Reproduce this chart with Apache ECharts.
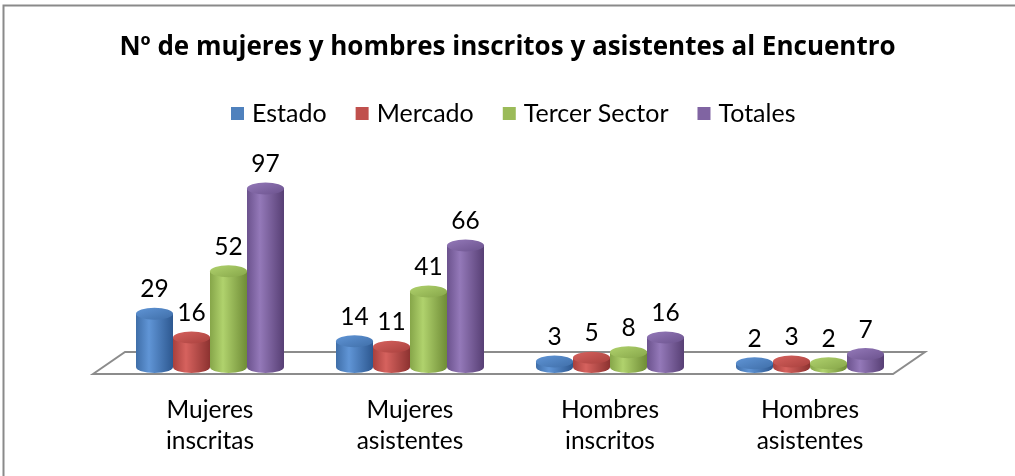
<!DOCTYPE html>
<html style="height: 100%;">
<head>
    <meta charset="UTF-8">
    <script src="https://cdn.jsdelivr.net/npm/echarts/dist/echarts.min.js"></script>
</head>
<body style="height: 100%; margin: 0; background: #fff;">
    <div id="chart" style="width: 1015px; height: 476px;"></div>

    <script type="text/javascript">
        // Data
        var categories = ['Mujeres\ninscritas', 'Mujeres\nasistentes', 'Hombres\ninscritos', 'Hombres\nasistentes'];
        var seriesNames = ['Estado', 'Mercado', 'Tercer Sector', 'Totales'];
        var estado = [29, 14, 3, 2];
        var mercado = [16, 11, 5, 3];
        var tercerSector = [52, 41, 8, 2];
        var totales = [97, 66, 16, 7];
        var seriesValues = [estado, mercado, tercerSector, totales];

        // Excel 2007 palette: base, dark edge, highlight, shadow edge
        var palette = [
            ['#4F81BD', '#3f6ea8', '#6095d6', '#2d5890'],
            ['#C0504D', '#a8403d', '#d6625e', '#8c3230'],
            ['#9BBB59', '#86a649', '#b0d26d', '#6f8c36'],
            ['#8064A2', '#6b528d', '#9479b9', '#573f74']
        ];
        var fontFamily = 'Lato, "Noto Sans", sans-serif';
        var barWidth = 37;

        function bodyGradient(c) {
            return new echarts.graphic.LinearGradient(0, 0, 1, 0, [
                { offset: 0, color: c[1] },
                { offset: 0.35, color: c[2] },
                { offset: 1, color: c[3] }
            ]);
        }

        var chart = echarts.init(document.getElementById('chart'));

        var series = [];
        // cylinder bodies
        seriesValues.forEach(function (vals, i) {
            series.push({
                name: seriesNames[i],
                type: 'bar',
                data: vals,
                barWidth: barWidth,
                barGap: '0%',
                z: 3,
                itemStyle: { color: bodyGradient(palette[i]) },
                label: {
                    show: true,
                    position: 'top',
                    distance: 12,
                    fontSize: 24.5,
                    color: '#000',
                    fontFamily: fontFamily
                }
            });
        });
        // top ellipses
        seriesValues.forEach(function (vals, i) {
            series.push({
                name: seriesNames[i] + ' top',
                type: 'pictorialBar',
                data: vals,
                barWidth: barWidth,
                barGap: '0%',
                symbol: 'circle',
                symbolSize: [barWidth, 12],
                symbolPosition: 'end',
                symbolOffset: [0, '-50%'],
                z: 4,
                itemStyle: {
                    color: new echarts.graphic.LinearGradient(0, 0, 1, 1, [
                        { offset: 0, color: palette[i][2] },
                        { offset: 1, color: palette[i][1] }
                    ])
                }
            });
        });
        // bottom ellipses (on a hidden twin axis so the layout stays separate)
        seriesValues.forEach(function (vals, i) {
            series.push({
                name: seriesNames[i] + ' bottom',
                type: 'pictorialBar',
                xAxisIndex: 1,
                data: vals,
                barWidth: barWidth,
                barGap: '0%',
                symbol: 'circle',
                symbolSize: [barWidth, 12],
                symbolPosition: 'start',
                symbolOffset: [0, '50%'],
                z: 2,
                itemStyle: { color: bodyGradient(palette[i]) }
            });
        });

        var option = {
            backgroundColor: '#fff',
            animation: false,
            title: {
                text: 'Nº de mujeres y hombres inscritos y asistentes al Encuentro',
                left: 'center',
                top: 30,
                textStyle: {
                    fontFamily: '"Open Sans", Lato, sans-serif',
                    fontWeight: 'bold',
                    fontSize: 26,
                    color: '#000'
                }
            },
            legend: {
                top: 96,
                left: 226,
                itemWidth: 13,
                itemHeight: 13,
                itemGap: 29,
                textStyle: {
                    fontFamily: fontFamily,
                    fontSize: 25,
                    color: '#000',
                    padding: [0, 0, 0, 3]
                },
                data: seriesNames.map(function (n, i) {
                    return { name: n, icon: 'rect', itemStyle: { color: palette[i][0] } };
                })
            },
            grid: {
                left: 110,
                right: 105,
                top: 183,
                bottom: 109
            },
            xAxis: [{
                type: 'category',
                data: categories,
                axisLine: { show: false },
                axisTick: { show: false },
                axisLabel: {
                    margin: 28,
                    fontSize: 24.5,
                    lineHeight: 31,
                    color: '#000',
                    fontFamily: fontFamily
                }
            }, {
                type: 'category',
                data: categories,
                show: false
            }],
            yAxis: {
                type: 'value',
                min: 0,
                max: 100,
                show: false
            },
            graphic: [
                {
                    // chart frame (only top and left edges visible in the crop)
                    type: 'rect',
                    shape: { x: 3.5, y: 5.5, width: 1100, height: 600 },
                    style: { fill: 'none', stroke: '#8a8a8a', lineWidth: 2 },
                    z: 0
                },
                {
                    // floor of the 3D plot
                    type: 'polygon',
                    shape: { points: [[93, 374], [125, 352], [925, 352], [893, 374]] },
                    style: { fill: '#fff', stroke: '#8c8c8c', lineWidth: 2 },
                    z: 0
                }
            ],
            series: series
        };

        chart.setOption(option);
        window.addEventListener('resize', chart.resize);
    </script>
</body>
</html>
